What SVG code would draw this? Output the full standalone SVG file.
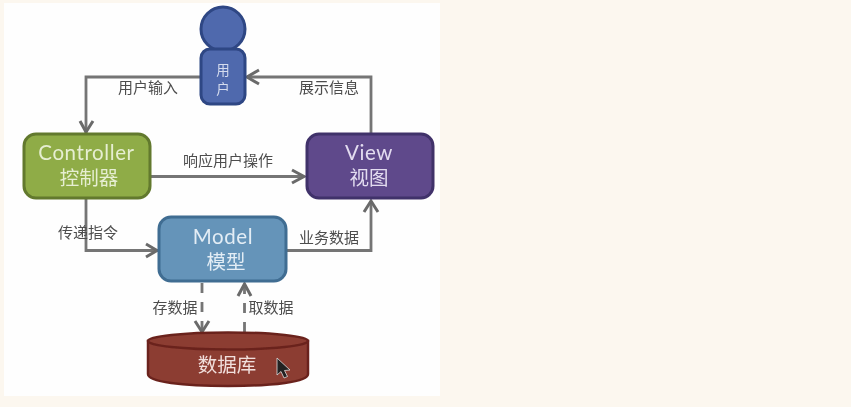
<svg xmlns="http://www.w3.org/2000/svg" width="851" height="407" viewBox="0 0 851 407">
<defs>
<filter id="soft" x="-2%" y="-2%" width="104%" height="104%"><feGaussianBlur stdDeviation="0.55"/></filter>
<style>
.t{font-family:"Noto Sans CJK SC","Liberation Sans",sans-serif;text-anchor:middle}
.la{font-family:Lato,"Liberation Sans",sans-serif;text-anchor:middle;font-size:20.500px;letter-spacing:.6px}
.l{font-size:15px;fill:#4d4d4d}
.n{font-size:19.500px}
.c{fill:none;stroke:#757575;stroke-width:2.800}
.d{stroke-dasharray:10 9}
.h{fill:none;stroke:#6a6a6a;stroke-width:3}
</style>
</defs>
<rect width="851" height="407" fill="#fcf7ef"/>
<rect x="4" y="3" width="436" height="393" fill="#fefefe"/>
<g filter="url(#soft)">
<g id="connectors">
<path class="c" d="M200 77H86V133"/><path class="h" d="M80 121L86 132L93 121"/>
<path class="c" d="M371 133V77H247"/><path class="h" d="M259 70L247 77L259 84"/>
<path class="c" d="M150 176.500H304"/><path class="h" d="M292 170L304 176.500L292 183"/>
<path class="c" d="M86 198V250.500H158"/><path class="h" d="M146 244L157 250.500L146 257"/>
<path class="c" d="M287 250.500H371V201"/><path class="h" d="M364 212L371 201L378 212"/>
<path class="c d" d="M202 283V332"/><path class="h" d="M195 321L202 332L209 321"/>
<path class="c d" d="M244.500 332V284"/><path class="h" d="M238 296L244.500 284L251 296"/>
</g>
<g id="user">
<circle cx="223" cy="29" r="22" fill="#4f69ad" stroke="#2f4684" stroke-width="3"/>
<rect x="201" y="49" width="44" height="55" rx="9" fill="#4f69ad" stroke="#2f4684" stroke-width="3"/>
<text class="t" x="223" y="75" font-size="13.500" fill="#d5dcee">用</text>
<text class="t" x="223" y="94" font-size="13.500" fill="#d5dcee">户</text>
</g>
<g id="label-input"><text class="t l" x="148" y="93">用户输入</text></g>
<g id="label-show"><text class="t l" x="329" y="93">展示信息</text></g>
<g id="controller">
<rect x="24" y="134" width="126" height="64" rx="12" fill="#8fac46" stroke="#62792d" stroke-width="3"/>
<text class="la" x="86.500" y="160" fill="#e6eed2">Controller</text>
<text class="t n" x="89" y="185" fill="#e6eed2">控制器</text>
</g>
<g id="view">
<rect x="307" y="134" width="126" height="64" rx="12" fill="#5f4a8b" stroke="#40306a" stroke-width="3"/>
<text class="la" x="369" y="160" fill="#e3dcf0">View</text>
<text class="t n" x="369" y="185" fill="#e3dcf0">视图</text>
</g>
<g id="label-respond"><text class="t l" x="228" y="166">响应用户操作</text></g>
<g id="label-command"><text class="t l" x="88" y="238">传递指令</text></g>
<g id="label-business"><text class="t l" x="329" y="243">业务数据</text></g>
<g id="model">
<rect x="159" y="217" width="127" height="64" rx="12" fill="#6594b9" stroke="#3f6d92" stroke-width="3"/>
<text class="la" x="223" y="244" fill="#e3edf5">Model</text>
<text class="t n" x="226" y="269" fill="#e3edf5">模型</text>
</g>
<g id="label-save"><text class="t l" x="175" y="313">存数据</text></g>
<g id="label-fetch"><text class="t l" x="271" y="313">取数据</text></g>
<g id="database">
<path d="M148 341V374C148 382 183 386 228 386S308 382 308 374V341Z" fill="#8c3d33" stroke="#6b241d" stroke-width="2.500"/>
<ellipse cx="228" cy="341" rx="80" ry="8.500" fill="#8c3d33" stroke="#6b241d" stroke-width="2.500"/>
<text class="t" x="227" y="372" font-size="19.500" fill="#f1dfdc">数据库</text>
</g>
<path id="cursor" d="M277 358V375L281 371.500L284 378L287.500 376.500L284.500 370.500L290 370Z" fill="#222" stroke="#ddd" stroke-width="0.800"/>
</g>
</svg>
